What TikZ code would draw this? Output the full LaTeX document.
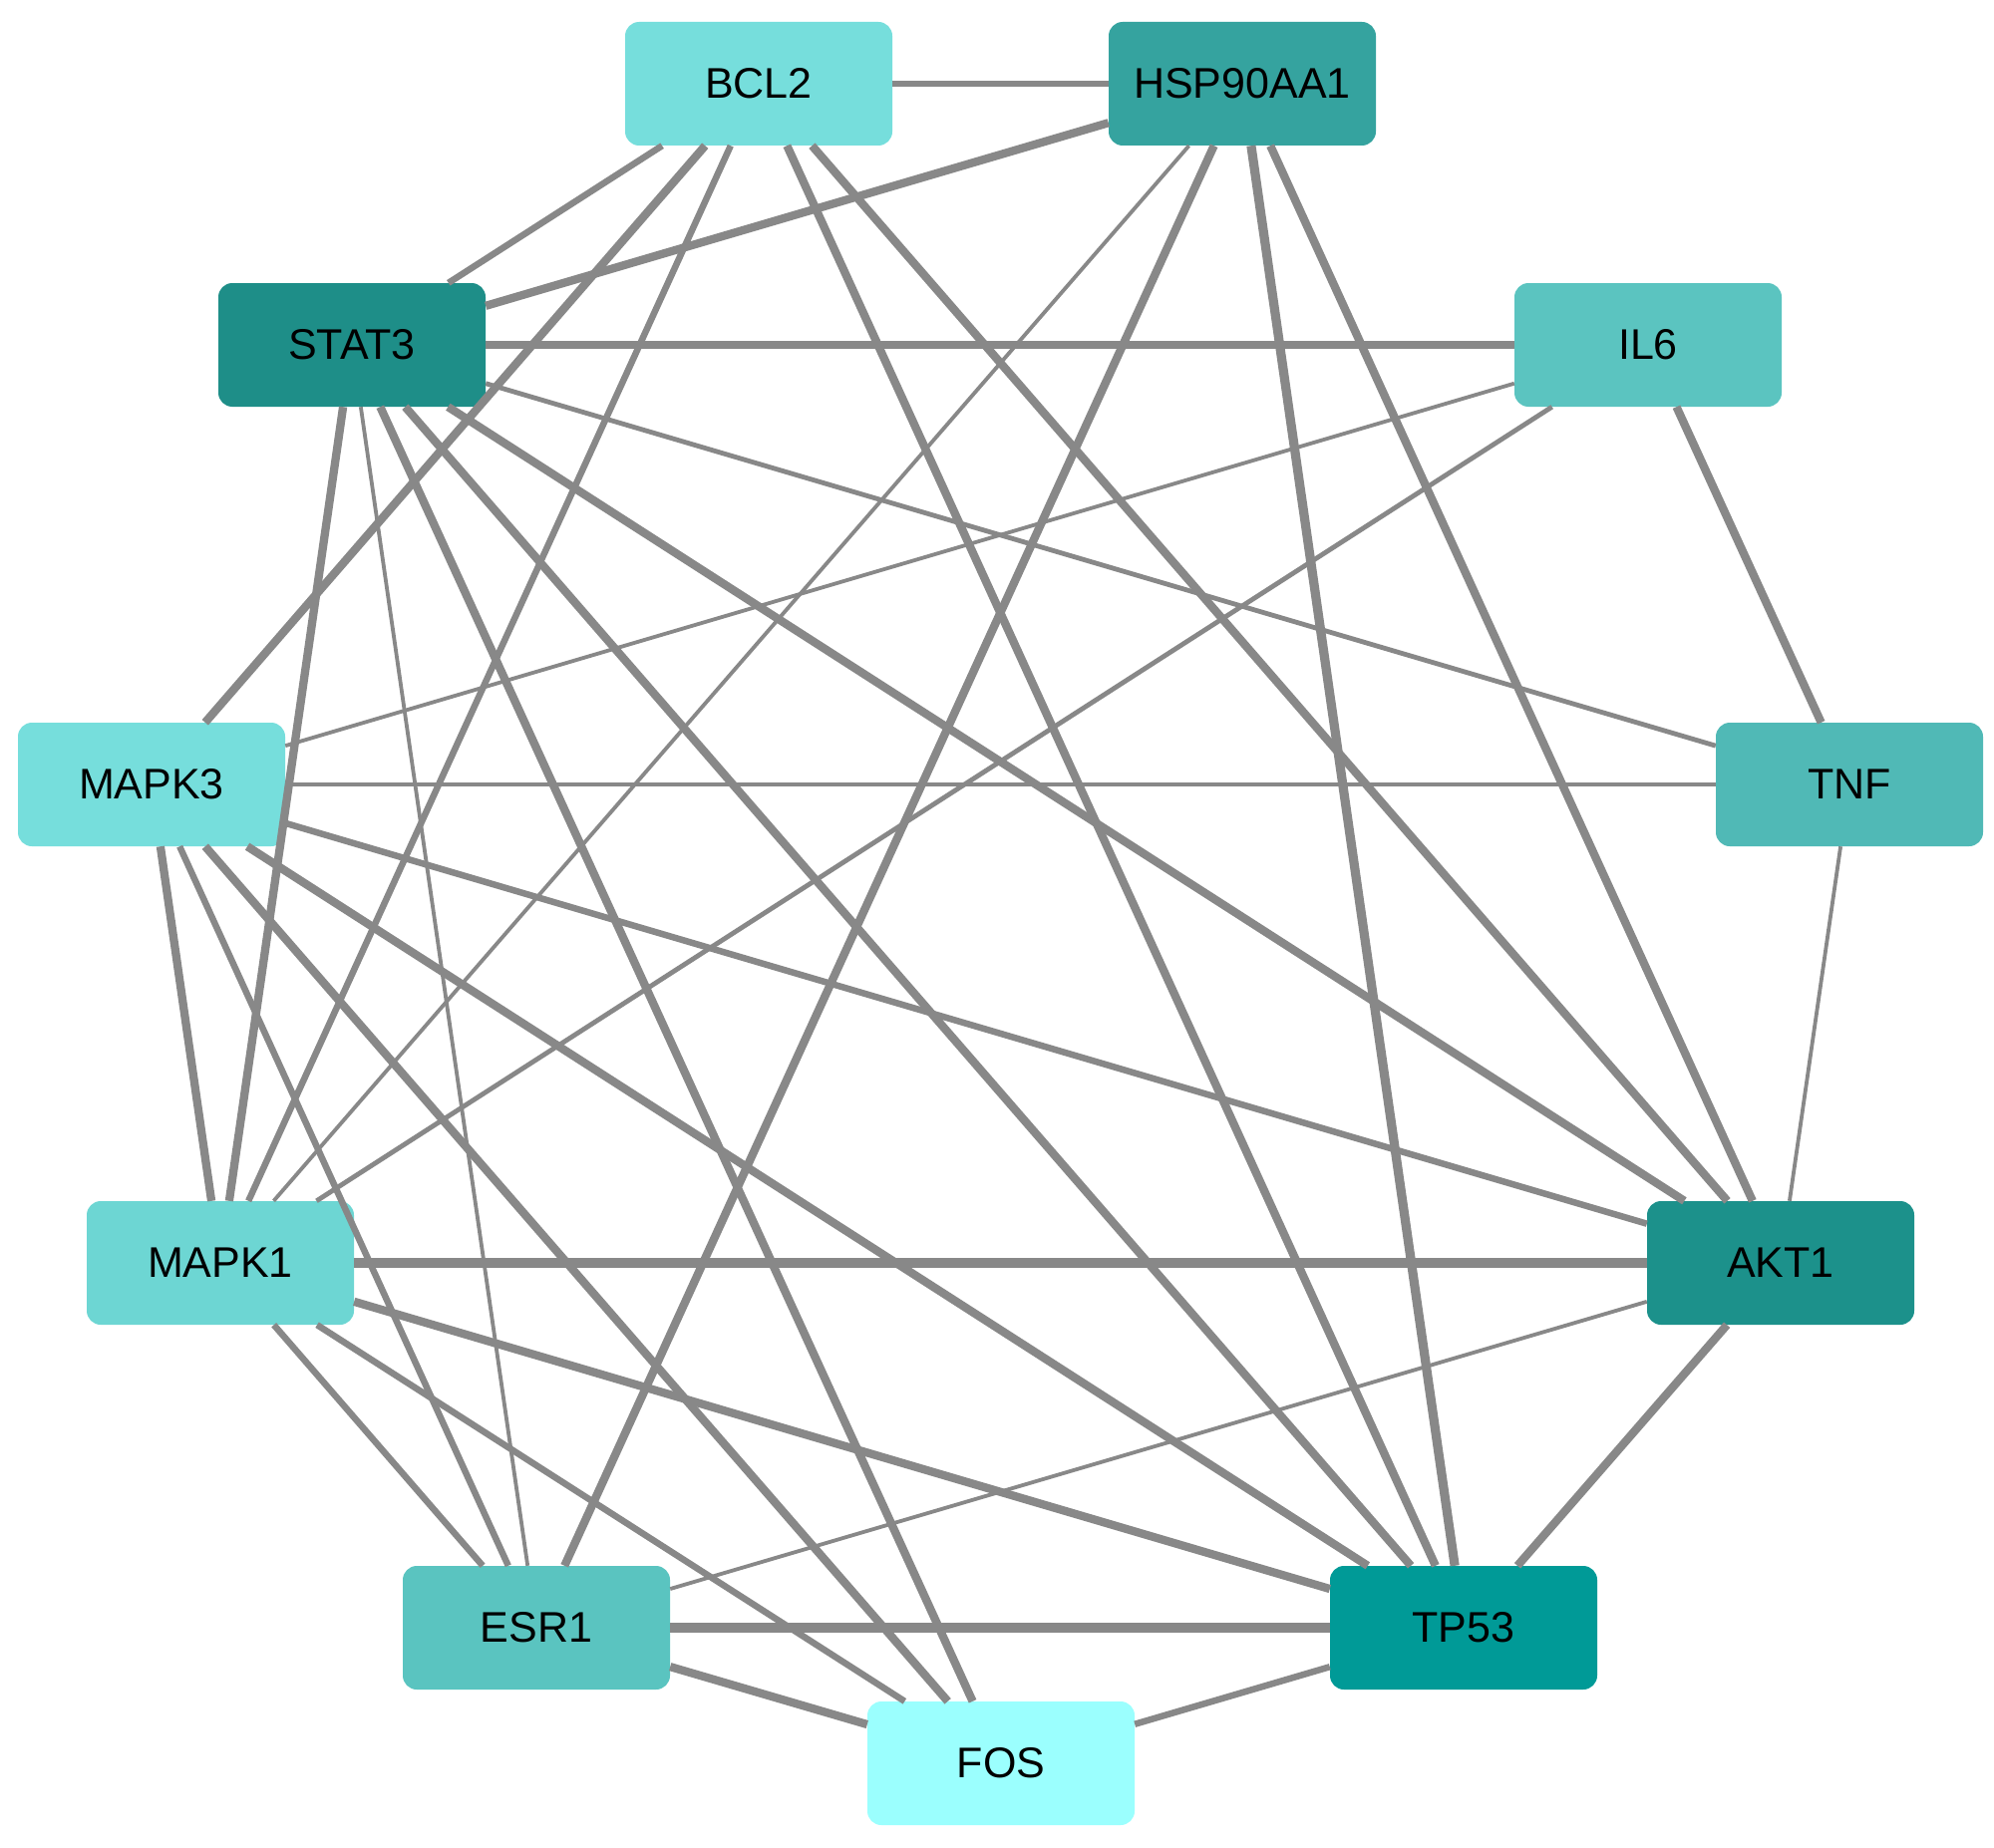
\documentclass[tikz,border=0pt]{standalone}
\usepackage{fontspec}
\setmainfont{Liberation Sans}
\definecolor{cBCL}{HTML}{76DEDC}
\definecolor{cHSP}{HTML}{35A39F}
\definecolor{cSTAT}{HTML}{1E8E88}
\definecolor{cIL}{HTML}{5BC4C0}
\definecolor{cMAPKc}{HTML}{76DEDC}
\definecolor{cTNF}{HTML}{50B9B6}
\definecolor{cMAPKa}{HTML}{6DD6D3}
\definecolor{cAKT}{HTML}{1C918B}
\definecolor{cESR}{HTML}{5AC4C0}
\definecolor{cTP}{HTML}{009A97}
\definecolor{cFOS}{HTML}{9BFFFE}
\definecolor{edgegray}{HTML}{888888}
\tikzset{
  gene/.style={rectangle, rounded corners=14pt, minimum width=268pt, minimum height=124pt,
    inner sep=0pt, font=\fontsize{43}{43}\selectfont, text=black},
  ethin/.style={draw=edgegray, line width=3.8pt},
  emid/.style={draw=edgegray, line width=4.8pt},
  emed/.style={draw=edgegray, line width=6.5pt},
  ethick/.style={draw=edgegray, line width=8.3pt},
  ebig/.style={draw=edgegray, line width=9.2pt},
}
\begin{document}
\begin{tikzpicture}[x=1pt,y=-1pt]
\useasboundingbox (0,0) rectangle (2000,1854);
\node[gene, fill=cBCL]   (bcl)  at (761,84)   {BCL2};
\node[gene, fill=cHSP]   (hsp)  at (1246,84)  {HSP90AA1};
\node[gene, fill=cSTAT]  (stat) at (353,346)  {STAT3};
\node[gene, fill=cIL]    (il)   at (1653,346) {IL6};
\node[gene, fill=cMAPKc] (mk3)  at (152,787)  {MAPK3};
\node[gene, fill=cTNF]   (tnf)  at (1855,787) {TNF};
\node[gene, fill=cMAPKa] (mk1)  at (221,1267) {MAPK1};
\node[gene, fill=cAKT]   (akt)  at (1786,1267){AKT1};
\node[gene, fill=cESR]   (esr)  at (538,1633) {ESR1};
\node[gene, fill=cTP]    (tp)   at (1468,1633){TP53};
\node[gene, fill=cFOS]   (fos)  at (1004,1769){FOS};

\draw[emed]   (bcl) -- (hsp);
\draw[emed]   (bcl) -- (stat);
\draw[ethick] (bcl) -- (mk3);
\draw[emed]   (bcl) -- (mk1);
\draw[ethick] (bcl) -- (tp);
\draw[ethick] (bcl) -- (akt);
\draw[ethick] (hsp) -- (stat);
\draw[ethin]  (hsp) -- (mk1);
\draw[ethick] (hsp) -- (esr);
\draw[ebig]   (hsp) -- (tp);
\draw[ethick] (hsp) -- (akt);
\draw[ethick] (stat) -- (il);
\draw[emid]   (stat) -- (tnf);
\draw[ethick] (stat) -- (akt);
\draw[ethick] (stat) -- (tp);
\draw[ethick] (stat) -- (fos);
\draw[ethin]  (stat) -- (esr);
\draw[ethick] (stat) -- (mk1);
\draw[ethin]  (il) -- (mk3);
\draw[emid]   (il) -- (mk1);
\draw[ethick] (il) -- (tnf);
\draw[emid]   (mk3) -- (tnf);
\draw[emed]   (mk3) -- (akt);
\draw[ethick] (mk3) -- (tp);
\draw[ethick] (mk3) -- (fos);
\draw[emed]   (mk3) -- (esr);
\draw[ethick] (mk3) -- (mk1);
\draw[ethin]  (tnf) -- (akt);
\draw[ebig]   (mk1) -- (akt);
\draw[ethick] (mk1) -- (tp);
\draw[emed]   (mk1) -- (fos);
\draw[emed]   (mk1) -- (esr);
\draw[ethick] (akt) -- (tp);
\draw[ethin]  (akt) -- (esr);
\draw[ebig]   (esr) -- (tp);
\draw[ethick] (esr) -- (fos);
\draw[emed]   (tp) -- (fos);
\end{tikzpicture}
\end{document}
